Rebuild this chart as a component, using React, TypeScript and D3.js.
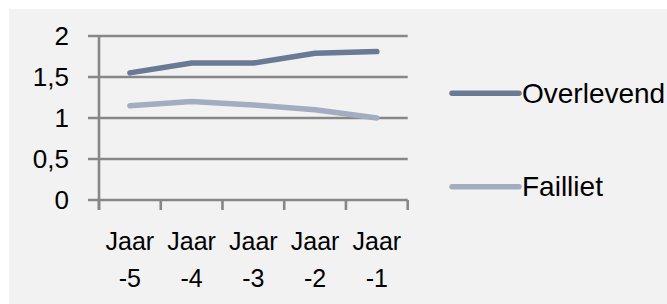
import { useEffect, useRef } from 'react';
import * as d3 from 'd3';

const categories = ['Jaar -5', 'Jaar -4', 'Jaar -3', 'Jaar -2', 'Jaar -1'];
const overlevend = [1.55, 1.67, 1.67, 1.79, 1.81];
const failliet = [1.15, 1.2, 1.16, 1.1, 1.0];
const yTicks = [0, 0.5, 1, 1.5, 2];
const seriesNames = ['Overlevend', 'Failliet'];
const seriesColors = ['#6a7a94', '#a3adc0'];

export default function App() {
  const svgRef = useRef<SVGSVGElement>(null);

  useEffect(() => {
    if (!svgRef.current) return;
    const svg = d3.select(svgRef.current);
    svg.selectAll('*').remove();

    const width = 667;
    const height = 304;
    const font = "'Liberation Sans', Arial, sans-serif";

    // fond
    svg.append('rect').attr('width', width).attr('height', height).attr('fill', '#ffffff');
    svg.append('rect')
      .attr('x', 9).attr('y', 9)
      .attr('width', width - 9).attr('height', height - 9)
      .attr('fill', '#f2f2f2');

    const x = d3.scaleBand<string>().domain(categories).range([99, 407.7]);
    const y = d3.scaleLinear().domain([0, 2]).range([200, 36]);
    const gridColor = '#878787';

    // rasterlijnen
    svg.append('g')
      .selectAll('line')
      .data(yTicks)
      .join('line')
      .attr('x1', 88).attr('x2', 407.7)
      .attr('y1', d => y(d)).attr('y2', d => y(d))
      .attr('stroke', gridColor)
      .attr('stroke-width', 2.6);

    // y-as
    svg.append('line')
      .attr('x1', 99).attr('x2', 99)
      .attr('y1', y(2) - 1).attr('y2', 210)
      .attr('stroke', gridColor).attr('stroke-width', 2.6);

    // x-as ticks
    const bounds = categories.map(c => x(c)!).concat([407.7]);
    svg.append('g')
      .selectAll('line')
      .data(bounds)
      .join('line')
      .attr('x1', d => d).attr('x2', d => d)
      .attr('y1', 200).attr('y2', 210)
      .attr('stroke', gridColor).attr('stroke-width', 2.6);

    // y labels
    svg.append('g')
      .selectAll('text')
      .data(yTicks)
      .join('text')
      .attr('x', 69)
      .attr('y', d => y(d) + 9)
      .attr('text-anchor', 'end')
      .attr('font-family', font)
      .attr('font-size', 26)
      .attr('fill', '#000')
      .text(d => String(d).replace('.', ','));

    // x labels
    const xl = svg.append('g')
      .selectAll('text')
      .data(categories)
      .join('text')
      .attr('text-anchor', 'middle')
      .attr('font-family', font)
      .attr('font-size', 25)
      .attr('fill', '#000');
    xl.each(function (d) {
      const cx = x(d)! + x.bandwidth() / 2;
      const parts = d.split(' ');
      const t = d3.select(this);
      t.append('tspan').attr('x', cx).attr('y', 250).text(parts[0]);
      t.append('tspan').attr('x', cx).attr('y', 287).text(parts[1]);
    });

    // lijnen
    const line = d3.line<number>()
      .x((_, i) => x(categories[i])! + x.bandwidth() / 2)
      .y(d => y(d));

    [overlevend, failliet].forEach((values, i) => {
      svg.append('path')
        .datum(values)
        .attr('fill', 'none')
        .attr('stroke', seriesColors[i])
        .attr('stroke-width', 5.5)
        .attr('stroke-linecap', 'round')
        .attr('stroke-linejoin', 'round')
        .attr('d', line);
    });

    // legenda
    const legendY = [93.3, 186.7];
    seriesNames.forEach((name, i) => {
      svg.append('line')
        .attr('x1', 452).attr('x2', 519)
        .attr('y1', legendY[i]).attr('y2', legendY[i])
        .attr('stroke', seriesColors[i])
        .attr('stroke-width', 5.5)
        .attr('stroke-linecap', 'round');
      svg.append('text')
        .attr('x', 522)
        .attr('y', legendY[i] + 9.5)
        .attr('font-family', font)
        .attr('font-size', 28)
        .attr('fill', '#000')
        .text(name);
    });
  }, []);

  return (
    <svg
      ref={svgRef}
      width={667}
      height={304}
      style={{ position: 'absolute', left: 0, top: 0 }}
    />
  );
}
